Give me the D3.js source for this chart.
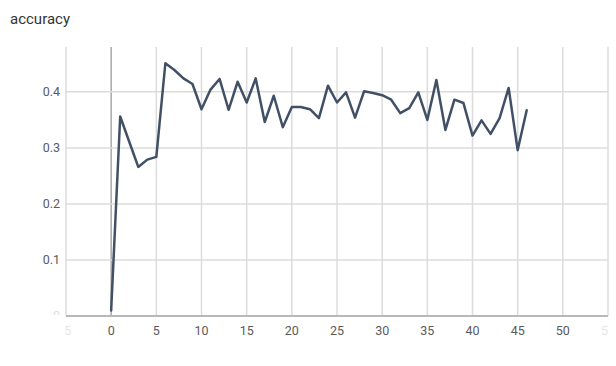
<!DOCTYPE html>
<html>
<head>
<meta charset="utf-8">
<script src="https://cdn.jsdelivr.net/npm/d3@7"></script>
<style>
  html, body { margin: 0; padding: 0; background: #fff; }
  svg { display: block; font-family: Roboto, "Noto Sans", sans-serif; }
</style>
</head>
<body>
<svg id="chart" width="616" height="366"></svg>
<script>
const title = "accuracy";
const steps = d3.range(0, 47);
const accuracy = [
  0.010, 0.356, 0.311, 0.266, 0.279, 0.284, 0.451, 0.439, 0.424, 0.414,
  0.369, 0.404, 0.423, 0.368, 0.418, 0.381, 0.424, 0.346, 0.393, 0.337,
  0.373, 0.373, 0.369, 0.353, 0.411, 0.381, 0.399, 0.354, 0.401, 0.398,
  0.394, 0.386, 0.362, 0.371, 0.399, 0.350, 0.421, 0.332, 0.386, 0.380,
  0.322, 0.349, 0.325, 0.353, 0.407, 0.296, 0.367
];
const xTicks = [-5, 0, 5, 10, 15, 20, 25, 30, 35, 40, 45, 50, 55];
const yTicks = [0, 0.1, 0.2, 0.3, 0.4];

const svg = d3.select("#chart");
const m = { left: 66, right: 608, top: 47, bottom: 316 };
const x = d3.scaleLinear().domain([-5, 55]).range([m.left, m.right]);
const y = d3.scaleLinear().domain([0, 0.48]).range([m.bottom, m.top]);

svg.append("text").attr("x", 10).attr("y", 24)
  .attr("font-size", 15).attr("fill", "#333").text(title);

const defs = svg.append("defs");
defs.append("clipPath").attr("id", "xclip").append("rect")
  .attr("x", 64).attr("y", 318).attr("width", 544).attr("height", 30);
defs.append("clipPath").attr("id", "yclip").append("rect")
  .attr("x", 0).attr("y", 40).attr("width", 64).attr("height", 275);

// grid
const grid = svg.append("g");
grid.selectAll("line.v").data(xTicks).join("line")
  .attr("x1", d => x(d)).attr("x2", d => x(d))
  .attr("y1", m.top).attr("y2", m.bottom)
  .attr("stroke", d => d === 0 ? "#a8a8a8" : "#dcdcdc")
  .attr("stroke-width", 1.5);
grid.selectAll("line.h").data(yTicks.filter(d => d > 0)).join("line")
  .attr("x1", m.left).attr("x2", m.right)
  .attr("y1", d => y(d)).attr("y2", d => y(d))
  .attr("stroke", "#dcdcdc").attr("stroke-width", 1.5);

// bottom axis line
svg.append("line").attr("x1", m.left).attr("x2", m.right)
  .attr("y1", m.bottom).attr("y2", m.bottom)
  .attr("stroke", "#b8b8b8").attr("stroke-width", 2);

// x labels
const xl = svg.append("g").attr("clip-path", "url(#xclip)");
xl.selectAll("text").data(xTicks).join("text")
  .attr("x", d => x(d)).attr("y", 335)
  .attr("text-anchor", "middle").attr("font-size", 12.5)
  .attr("fill", "#5a5a5a")
  .attr("opacity", d => (d === -5 || d === 55) ? 0.15 : 1)
  .text(d => d);

// y labels
const yl = svg.append("g").attr("clip-path", "url(#yclip)");
yl.selectAll("text").data(yTicks).join("text")
  .attr("x", 60).attr("y", d => y(d)).attr("dy", "0.35em")
  .attr("text-anchor", "end").attr("font-size", 12.5)
  .attr("fill", "#5a5a5a")
  .attr("opacity", d => d === 0 ? 0.2 : 1)
  .text(d => d === 0 ? "0" : d3.format(".1f")(d));

// line
const line = d3.line().x((d, i) => x(steps[i])).y(d => y(d));
svg.append("path").datum(accuracy)
  .attr("d", line).attr("fill", "none")
  .attr("stroke", "#425066").attr("stroke-width", 2.5)
  .attr("stroke-linejoin", "round").attr("stroke-linecap", "round");
</script>
</body>
</html>
